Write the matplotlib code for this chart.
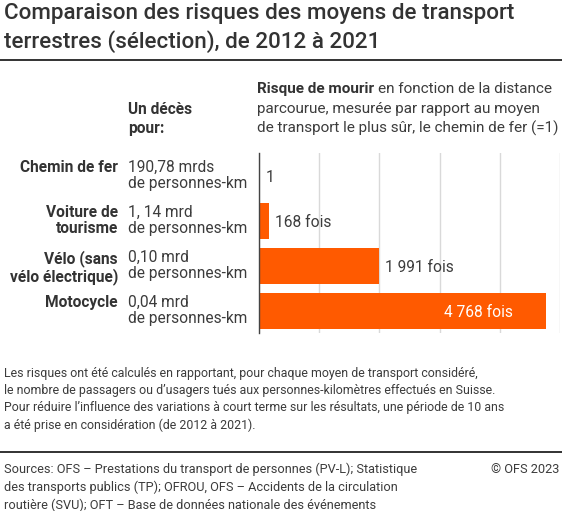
import matplotlib.pyplot as plt
import matplotlib.transforms as mtransforms

plt.rcParams['font.family'] = ['Roboto', 'DejaVu Sans']

# Data
categories = ['Chemin de fer', 'Voiture de\ntourisme', 'Vélo (sans\nvélo électrique)', 'Motocycle']
distances = ['190,78 mrds\nde personnes-km', '1, 14 mrd\nde personnes-km',
             '0,10 mrd\nde personnes-km', '0,04 mrd\nde personnes-km']
risk = [1, 168, 1991, 4768]
risk_labels = ['1', '168 fois', '1 991 fois', '4 768 fois']
xticks = [0, 1000, 2000, 3000, 4000, 5000]

W, H = 562, 511
TXT = '#333333'
BODY = '#3c3c3c'
ORANGE = '#ff5a00'
FS = 11.2

fig = plt.figure(figsize=(W / 100, H / 100), dpi=100)


def fx(px):
    return px / W


def fy(py):
    return 1 - py / H


# axes placed in pixel space
ax = fig.add_axes([fx(259), fy(333), fx(560 - 259), (333 - 153) / H])
ypos = list(range(len(categories)))
ax.barh(ypos, risk, height=0.8, color=ORANGE, zorder=2)
ax.set_xlim(0, 5000)
ax.set_ylim(len(categories) - 0.5, -0.5)
ax.set_xticks(xticks)
ax.grid(axis='x', color='#d9d9d9', linewidth=1, zorder=0)
ax.tick_params(left=False, bottom=False, labelleft=False, labelbottom=False)
for s in ['top', 'right', 'bottom']:
    ax.spines[s].set_visible(False)
ax.spines['left'].set_color('#444444')
ax.spines['left'].set_linewidth(1)
ax.spines['left'].set_zorder(3)

# value labels
for i, (v, lab) in enumerate(zip(risk, risk_labels)):
    if v > 4000:
        ax.annotate(lab, (v, i), xytext=(-24, -1.5), textcoords='offset points',
                    ha='right', va='center', color='white', fontsize=FS)
    else:
        ax.annotate(lab, (v, i), xytext=(4.5, -1.5), textcoords='offset points',
                    ha='left', va='center', color=BODY, fontsize=FS)

# row labels (x in figure, y in data)
trans = mtransforms.blended_transform_factory(fig.transFigure, ax.transData)
for i, (c, d) in enumerate(zip(categories, distances)):
    ax.text(fx(118), i - 0.34, c, transform=trans, ha='right', va='top',
            fontsize=FS, fontweight='bold', color=TXT, linespacing=1.1)
    ax.text(fx(128), i - 0.34, d, transform=trans, ha='left', va='top',
            fontsize=FS, color=BODY, linespacing=1.1)

# title
fig.text(fx(4), fy(3), 'Comparaison des risques des moyens de transport\nterrestres (sélection), de 2012 à 2021',
         ha='left', va='top', fontsize=16.1, fontweight='medium', color=TXT, linespacing=1.36)
fig.add_artist(plt.Line2D([0, 1], [fy(60.5), fy(60.5)], color='#222222', linewidth=1.3))

# headers
HS = 11.0
HY = 82
fig.text(fx(128), fy(HY + 20), 'Un décès\npour:', ha='left', va='top', fontsize=FS,
         fontweight='bold', color=TXT, linespacing=1.36)
bold = fig.text(fx(257), fy(HY), 'Risque de mourir', ha='left', va='top', fontsize=HS,
                fontweight='bold', color=TXT)
fig.canvas.draw()
bb = bold.get_window_extent(renderer=fig.canvas.get_renderer())
fig.text(bb.x1 / W + fx(4), fy(HY), 'en fonction de la distance', ha='left', va='top',
         fontsize=HS, color=BODY)
fig.text(fx(257), fy(HY + 20), 'parcourue, mesurée par rapport au moyen\n'
         'de transport le plus sûr, le chemin de fer (=1)', ha='left', va='top', fontsize=HS,
         color=BODY, linespacing=1.38)

# footnote
fig.text(fx(4), fy(367), "Les risques ont été calculés en rapportant, pour chaque moyen de transport considéré,\n"
         "le nombre de passagers ou d’usagers tués aux personnes-kilomètres effectués en Suisse.\n"
         "Pour réduire l’influence des variations à court terme sur les résultats, une période de 10 ans\n"
         "a été prise en considération (de 2012 à 2021).",
         ha='left', va='top', fontsize=8.95, color=BODY, linespacing=1.42)
fig.add_artist(plt.Line2D([0, 1], [fy(452), fy(452)], color='#222222', linewidth=1.3))

fig.text(fx(4), fy(463), "Sources: OFS – Prestations du transport de personnes (PV-L); Statistique\n"
         "des transports publics (TP); OFROU, OFS – Accidents de la circulation\n"
         "routière (SVU); OFT – Base de données nationale des événements",
         ha='left', va='top', fontsize=9.2, color=BODY, linespacing=1.4)
fig.text(fx(559), fy(463), '© OFS 2023', ha='right', va='top', fontsize=9.2, color=BODY)

fig.savefig('out.png', dpi=100)
